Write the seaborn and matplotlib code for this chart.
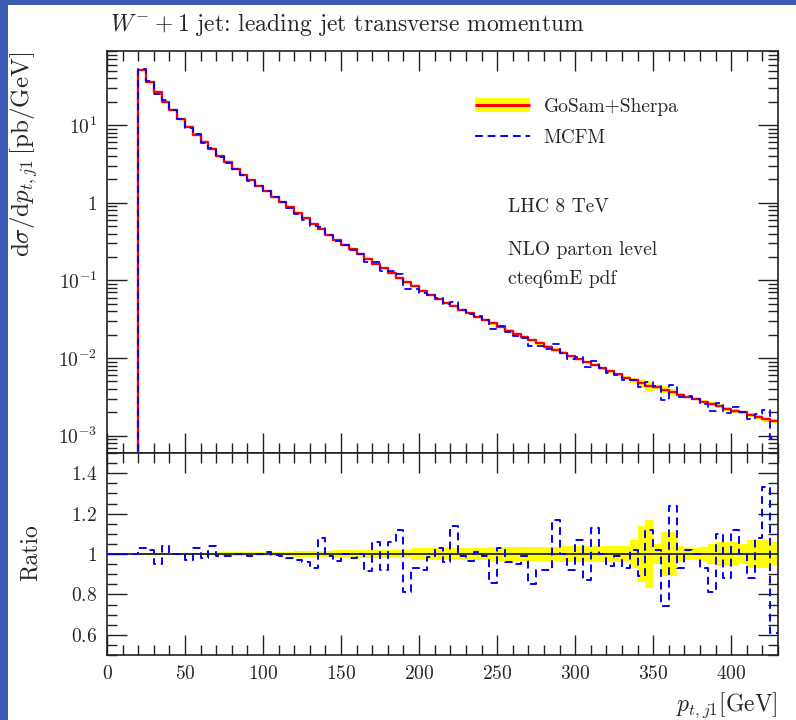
import numpy as np
import pandas as pd
import matplotlib
matplotlib.use("Agg")
import matplotlib.pyplot as plt
import seaborn as sns
from matplotlib.lines import Line2D
from matplotlib.patches import Rectangle
from matplotlib.legend_handler import HandlerTuple
from matplotlib.ticker import FixedLocator, FixedFormatter, MultipleLocator, LogLocator, NullFormatter

# ---------------- data ----------------
bin_start = 20.0
bin_width = 5.0

# GoSam+Sherpa  dsigma/dpT [pb/GeV], 5 GeV bins from 20 to 430 GeV
gosam = [51.3, 36.3, 26.3, 20.0, 15.5, 12.0, 9.33, 7.41, 6.03, 4.90,
         3.98, 3.31, 2.75, 2.29, 1.95, 1.66, 1.41, 1.20, 1.02, 0.871,
         0.741, 0.631, 0.537, 0.457, 0.389, 0.335, 0.288, 0.251, 0.216, 0.188,
         0.164, 0.143, 0.124, 0.108, 0.0955, 0.0841, 0.0741, 0.0653, 0.0575, 0.0519,
         0.0468, 0.0422, 0.0380, 0.0343, 0.0309, 0.0279, 0.0251, 0.0226, 0.0204, 0.0186,
         0.0170, 0.0155, 0.0141, 0.0129, 0.0117, 0.0107, 0.00977, 0.00891, 0.00813, 0.00741,
         0.00676, 0.00617, 0.00562, 0.00519, 0.00479, 0.00440, 0.00425, 0.00389, 0.00363, 0.00339,
         0.00316, 0.00295, 0.00275, 0.00257, 0.00240, 0.00224, 0.00211, 0.00200, 0.00186, 0.00174,
         0.00162, 0.00155]

# relative uncertainty of GoSam+Sherpa (half width of yellow band)
gosam_relerr = [0.006, 0.006, 0.006, 0.006, 0.006, 0.006, 0.006, 0.006, 0.006, 0.006,
                0.012, 0.012, 0.012, 0.012, 0.012, 0.012, 0.012, 0.012, 0.012, 0.012,
                0.015, 0.015, 0.015, 0.015, 0.015, 0.018, 0.018, 0.018, 0.018, 0.018,
                0.018, 0.018, 0.018, 0.018, 0.018, 0.028, 0.028, 0.028, 0.028, 0.028,
                0.028, 0.028, 0.028, 0.028, 0.028, 0.035, 0.035, 0.035, 0.035, 0.035,
                0.035, 0.035, 0.035, 0.035, 0.040, 0.040, 0.040, 0.040, 0.040, 0.040,
                0.040, 0.040, 0.040, 0.070, 0.140, 0.170, 0.050, 0.110, 0.110, 0.040,
                0.030, 0.030, 0.035, 0.050, 0.060, 0.060, 0.060, 0.050, 0.070, 0.070,
                0.070, 0.060]

# MCFM / GoSam+Sherpa ratio
mcfm_ratio = [1.03, 1.02, 0.95, 1.04, 1.00, 1.00, 0.97, 1.03, 0.98, 1.04,
              0.99, 0.99, 1.00, 1.00, 0.99, 1.00, 1.01, 0.995, 0.99, 0.98,
              0.97, 0.96, 0.93, 1.08, 0.99, 0.965, 1.00, 0.98, 1.00, 0.915,
              1.06, 0.92, 1.06, 1.12, 0.81, 0.93, 0.92, 0.985, 1.03, 0.96,
              1.14, 0.99, 0.965, 1.01, 0.99, 0.855, 1.03, 0.96, 0.95, 0.99,
              0.85, 0.92, 0.92, 1.17, 1.00, 0.92, 1.07, 0.87, 1.13, 1.00,
              0.94, 0.99, 0.93, 1.02, 0.89, 1.12, 1.02, 0.745, 1.24, 0.93,
              1.02, 1.00, 0.93, 0.81, 1.10, 0.88, 1.12, 1.00, 0.88, 1.08,
              1.33, 0.61]

x_ticks = [0, 50, 100, 150, 200, 250, 300, 350, 400]
y_ticks_main = [1e-3, 1e-2, 1e-1, 1.0, 10.0]
y_ticklabels_main = [r"$10^{-3}$", r"$10^{-2}$", r"$10^{-1}$", r"$1$", r"$10^{1}$"]
y_ticks_ratio = [0.6, 0.8, 1.0, 1.2, 1.4]
y_ticklabels_ratio = [r"$0.6$", r"$0.8$", r"$1$", r"$1.2$", r"$1.4$"]

# ---------------- derived arrays ----------------
gosam = np.array(gosam)
gosam_relerr = np.array(gosam_relerr)
mcfm_ratio = np.array(mcfm_ratio)
mcfm = gosam * mcfm_ratio
edges = bin_start + bin_width * np.arange(len(gosam) + 1)

x_step = np.concatenate([[0.0], edges])
df_main = pd.DataFrame({
    "pt": x_step,
    "gosam": np.concatenate([[1e-9], gosam, [gosam[-1]]]),
    "mcfm": np.concatenate([[1e-9], mcfm, [mcfm[-1]]]),
})
df_ratio = pd.DataFrame({
    "pt": x_step,
    "ratio": np.concatenate([[1.0], mcfm_ratio, [mcfm_ratio[-1]]]),
})
band_lo = np.concatenate([gosam * (1 - gosam_relerr), [gosam[-1] * (1 - gosam_relerr[-1])]])
band_hi = np.concatenate([gosam * (1 + gosam_relerr), [gosam[-1] * (1 + gosam_relerr[-1])]])
rband_lo = np.concatenate([1 - gosam_relerr, [1 - gosam_relerr[-1]]])
rband_hi = np.concatenate([1 + gosam_relerr, [1 + gosam_relerr[-1]]])

# ---------------- style ----------------
sns.set_style("ticks")
plt.rcParams["font.family"] = ["cmr10", "DejaVu Serif"]
plt.rcParams["mathtext.fontset"] = "cm"
plt.rcParams["axes.unicode_minus"] = False
plt.rcParams["axes.formatter.use_mathtext"] = True

FS = 14
FS_LAB = 17
RED = "#ff0000"
YEL = "#ffff00"
BLUE = "#0000ff"
DASH = (0, (4, 2.5))

fig = plt.figure(figsize=(7.96, 7.20), dpi=100)
fig.patch.set_facecolor("white")
L, W = 107 / 796, 671 / 796
ax1 = fig.add_axes([L, (720 - 453) / 720, W, 402 / 720])
ax2 = fig.add_axes([L, (720 - 655) / 720, W, 202 / 720])

# blue page border (left and top strips)
fig.add_artist(Rectangle((0, 0), 8 / 796, 1, transform=fig.transFigure, color="#3a5ab4", lw=0, zorder=0))
fig.add_artist(Rectangle((0, 1 - 5 / 720), 1, 5 / 720, transform=fig.transFigure, color="#3a5ab4", lw=0, zorder=0))

# ---------------- main panel ----------------
ax1.set_yscale("log")
ax1.fill_between(edges, band_lo, band_hi, step="post", color=YEL, lw=0, zorder=1)
sns.lineplot(data=df_main, x="pt", y="gosam", ax=ax1, drawstyle="steps-post",
             color=RED, lw=1.7, estimator=None, zorder=2)
sns.lineplot(data=df_main, x="pt", y="mcfm", ax=ax1, drawstyle="steps-post",
             color=BLUE, lw=1.3, ls=DASH, estimator=None, zorder=3)
ax1.set_xlim(0, 430)
ax1.set_ylim(6e-4, 90)
ax1.set_xlabel("")
ax1.set_ylabel("")

ax1.yaxis.set_major_locator(FixedLocator(y_ticks_main))
ax1.yaxis.set_major_formatter(FixedFormatter(y_ticklabels_main))
ax1.yaxis.set_minor_locator(LogLocator(base=10, subs=np.arange(2, 10), numticks=20))
ax1.yaxis.set_minor_formatter(NullFormatter())
ax1.xaxis.set_major_locator(FixedLocator(x_ticks))
ax1.xaxis.set_minor_locator(MultipleLocator(10))
ax1.tick_params(labelbottom=False)

handles = [(Line2D([], [], color=YEL, lw=10, solid_capstyle="butt"),
            Line2D([], [], color=RED, lw=2.2, solid_capstyle="butt")),
           Line2D([], [], color=BLUE, lw=1.4, ls=DASH)]
ax1.legend(handles, ["GoSam+Sherpa", "MCFM"], handler_map={tuple: HandlerTuple(ndivide=1)},
           loc="upper left", bbox_to_anchor=(0.548, 0.884), frameon=False, fontsize=FS,
           borderpad=0, borderaxespad=0, handlelength=2.85, handletextpad=0.7, labelspacing=0.7)

ax1.text(0.598, 0.600, "LHC 8 TeV", transform=ax1.transAxes, fontsize=FS, va="baseline", ha="left")
ax1.text(0.598, 0.4925, "NLO parton level", transform=ax1.transAxes, fontsize=FS, va="baseline", ha="left")
ax1.text(0.598, 0.420, "cteq6mE pdf", transform=ax1.transAxes, fontsize=FS, va="baseline", ha="left")

# ---------------- ratio panel ----------------
ax2.fill_between(edges, rband_lo, rband_hi, step="post", color=YEL, lw=0, zorder=1)
ax2.axhline(1.0, color="black", lw=1.1, zorder=2)
sns.lineplot(data=df_ratio, x="pt", y="ratio", ax=ax2, drawstyle="steps-post",
             color=BLUE, lw=1.4, ls=DASH, estimator=None, zorder=3)
ax2.set_xlim(0, 430)
ax2.set_ylim(0.5, 1.5)
ax2.set_xlabel("")
ax2.set_ylabel("")
ax2.yaxis.set_major_locator(FixedLocator(y_ticks_ratio))
ax2.yaxis.set_major_formatter(FixedFormatter(y_ticklabels_ratio))
ax2.yaxis.set_minor_locator(MultipleLocator(0.05))
ax2.xaxis.set_major_locator(FixedLocator(x_ticks))
ax2.xaxis.set_major_formatter(FixedFormatter([rf"${v}$" for v in x_ticks]))
ax2.xaxis.set_minor_locator(MultipleLocator(10))

for ax in (ax1, ax2):
    ax.tick_params(which="both", direction="in", top=True, right=True, width=1.0,
                   color="#222222", labelsize=FS, pad=7)
    ax.tick_params(which="major", length=14.5)
    ax.tick_params(which="minor", length=7)
    for s in ax.spines.values():
        s.set_linewidth(1.2)
        s.set_color("#222222")

# ---------------- labels ----------------
fig.text(110 / 796, 1 - 30.7 / 720, r"$W^{-}\:+\:1$ jet: leading jet transverse momentum",
         fontsize=FS_LAB, ha="left", va="baseline")
fig.text(24 / 796, 1 - 52 / 720, r"$\mathrm{d}\sigma/\mathrm{d}p_{t,j1}\,$[pb/GeV]",
         rotation=90, fontsize=18, ha="center", va="top")
fig.text(31 / 796, 1 - 553 / 720, "Ratio", rotation=90, fontsize=FS_LAB, ha="center", va="center")
fig.text(778 / 796, 1 - 711 / 720, r"$p_{t,j1}$[GeV]", fontsize=FS_LAB, ha="right", va="baseline")

fig.savefig("out.png", dpi=100)
